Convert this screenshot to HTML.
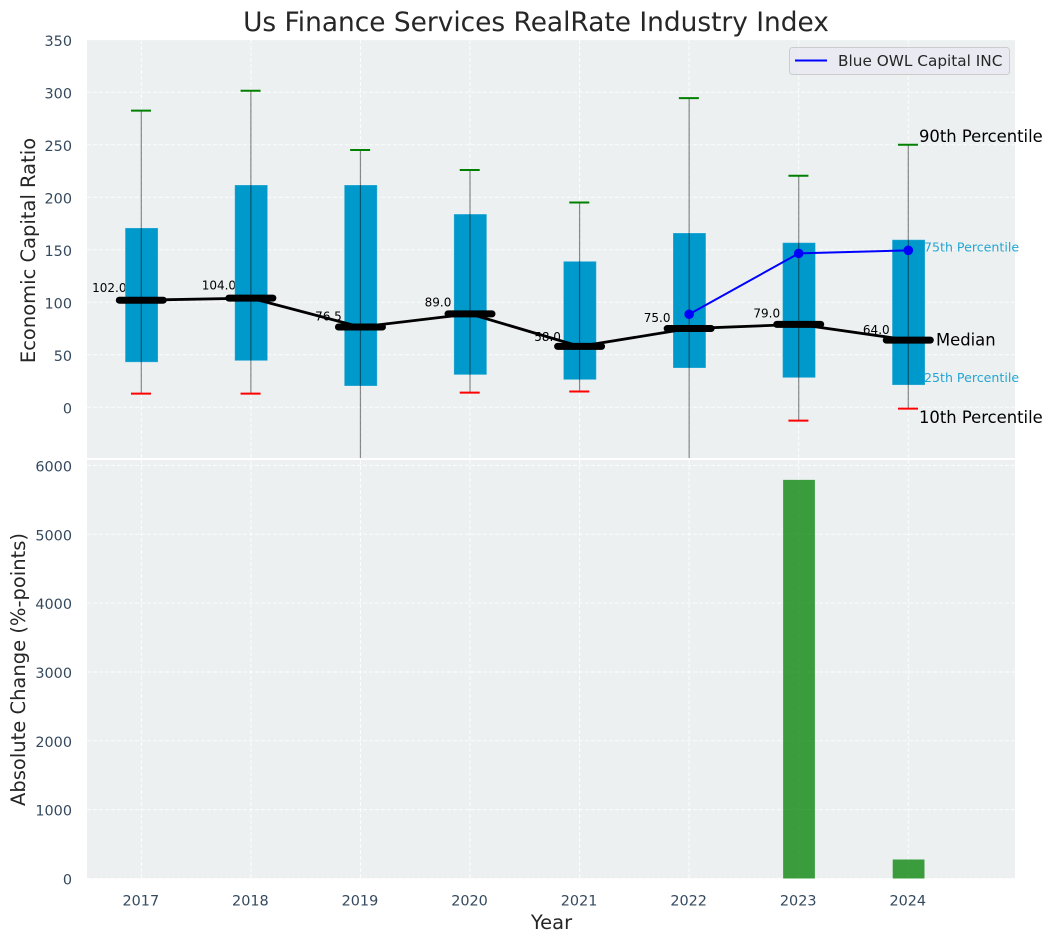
<!DOCTYPE html>
<html lang="en">
<head>
<meta charset="utf-8">
<title>Us Finance Services RealRate Industry Index</title>
<style>
html,body{margin:0;padding:0;background:#fff;width:1054px;height:942px;overflow:hidden}
svg{display:block}
text{font-family:"DejaVu Sans","Liberation Sans",sans-serif}
.tick{fill:#34495e;font-size:14.4px}
.axis-title{fill:#262626;font-size:19.5px}
</style>
</head>
<body>
<svg id="chart" width="1054" height="942" viewBox="0 0 1054 942" xmlns="http://www.w3.org/2000/svg">
  <defs>
    <clipPath id="top-clip"><rect x="87" y="40" width="928" height="418"></rect></clipPath>
  </defs>
  <text x="536" y="31" text-anchor="middle" font-size="26.4" fill="#262626">Us Finance Services RealRate Industry Index</text>
  <rect x="87" y="40" width="928" height="418" fill="#ecf0f1"></rect>
  <rect x="87" y="460" width="928" height="418.5" fill="#ecf0f1"></rect>
  <g id="grid-layer"></g>
  <g id="top-layer" clip-path="url(#top-clip)"></g>
  <g id="bottom-layer"></g>
  <g id="tick-layer"></g>
  <text class="axis-title" transform="translate(35,250.5) rotate(-90)" text-anchor="middle">Economic Capital Ratio</text>
  <text class="axis-title" transform="translate(25,669.5) rotate(-90)" text-anchor="middle">Absolute Change (%-points)</text>
  <text class="axis-title" x="551.5" y="929" text-anchor="middle">Year</text>
  <g>
    <rect x="789.5" y="47.5" width="220" height="27" rx="3" ry="3" fill="#eaeaf2" fill-opacity="0.8" stroke="#cccccc" stroke-width="1"></rect>
    <line x1="795" y1="60.5" x2="827" y2="60.5" stroke="#0000ff" stroke-width="2"></line>
    <text x="838" y="65.8" font-size="15.3" fill="#262626">Blue OWL Capital INC</text>
  </g>
  <text id="ann-p90" font-size="16.4" fill="#000">90th Percentile</text>
  <text id="ann-p75" font-size="12.6" fill="#0099cc" fill-opacity="0.85">75th Percentile</text>
  <text id="ann-med" font-size="16.4" fill="#000">Median</text>
  <text id="ann-p25" font-size="12.6" fill="#0099cc" fill-opacity="0.85">25th Percentile</text>
  <text id="ann-p10" font-size="16.4" fill="#000">10th Percentile</text>
</svg>
<script>
const years = [2017, 2018, 2019, 2020, 2021, 2022, 2023, 2024];
const p90 = [282.5, 301.5, 245, 226, 195, 294.5, 220.5, 250];
const p75 = [170.8, 211.7, 211.7, 184, 139, 166, 156.8, 159.6];
const medians = [102, 104, 76.5, 89, 58, 75, 79, 64];
const p25 = [43, 44.4, 20.3, 31, 26.3, 37.4, 28.2, 21.2];
const p10 = [13, 13, -60, 14, 15, -60, -12.7, -1.3];
const companyValues = [null, null, null, null, null, 88.6, 146.6, 149.5];
const absoluteChange = [0, 0, 0, 0, 0, 0, 5790, 276];
const topTicks = [0, 50, 100, 150, 200, 250, 300, 350];
const bottomTicks = [0, 1000, 2000, 3000, 4000, 5000, 6000];

const NS = 'http://www.w3.org/2000/svg';
const PLOT_LEFT = 87, PLOT_RIGHT = 1015;
const X_UNIT = 109.57;
function xScale(year) { return 141.3 + (year - 2017) * X_UNIT; }
function yTop(v) { return 407.3 - v * 1.05; }
function yBottom(v) { return 878.5 - v * 0.06885; }

function make(tag, parent, attrs) {
  const el = document.createElementNS(NS, tag);
  for (const k in attrs) el.setAttribute(k, attrs[k]);
  parent.appendChild(el);
  return el;
}

const gridLayer = document.getElementById('grid-layer');
const topLayer = document.getElementById('top-layer');
const bottomLayer = document.getElementById('bottom-layer');
const tickLayer = document.getElementById('tick-layer');
const gridStyle = { stroke: '#ffffff', 'stroke-width': 1, 'stroke-dasharray': '4,2', 'stroke-opacity': 0.85 };

topTicks.forEach(function (t) {
  const y = yTop(t);
  const line = make('line', gridLayer, Object.assign({ x1: PLOT_LEFT, x2: PLOT_RIGHT, y1: y, y2: y }, gridStyle));
  
  
  const label = make('text', tickLayer, { x: 72, y: y + 6, 'text-anchor': 'end', class: 'tick' });
  label.textContent = String(t);
  
  
});

bottomTicks.forEach(function (t) {
  const y = yBottom(t);
  const line = make('line', gridLayer, Object.assign({ x1: PLOT_LEFT, x2: PLOT_RIGHT, y1: y, y2: y }, gridStyle));
  
  
  const label = make('text', tickLayer, { x: 72, y: y + 6, 'text-anchor': 'end', class: 'tick' });
  label.textContent = String(t);
  
  
});

years.forEach(function (year) {
  const x = xScale(year);
  const topLine = make('line', gridLayer, Object.assign({ x1: x, x2: x, y1: 40, y2: 458 }, gridStyle));
  
  
  const bottomLine = make('line', gridLayer, Object.assign({ x1: x, x2: x, y1: 460, y2: 878.5 }, gridStyle));
  
  
  const label = make('text', tickLayer, { x: x - 0.5, y: 905.3, 'text-anchor': 'middle', class: 'tick' });
  label.textContent = String(year);
  
  
});

/* Median value labels sit behind the connecting line */
years.forEach(function (year, i) {
  const label = make('text', topLayer, {
    x: xScale(year) - 32, y: yTop(medians[i] * 1.062) - 1.7,
    'text-anchor': 'middle', 'font-size': 12, fill: '#000'
  });
  label.textContent = medians[i].toFixed(1);
  
  
});

/* Interquartile boxes */
years.forEach(function (year, i) {
  const box = make('rect', topLayer, {
    x: xScale(year) + 0.3 - X_UNIT * 0.15, y: yTop(p75[i]),
    width: X_UNIT * 0.3, height: yTop(p25[i]) - yTop(p75[i]),
    fill: '#0099cc', stroke: '#ffffff', 'stroke-opacity': 0.25, 'stroke-width': 1
  });
  
  
});

/* Whiskers and caps */
years.forEach(function (year, i) {
  const x = xScale(year);
  const whisker = make('line', topLayer, {
    x1: x, x2: x, y1: yTop(p90[i]), y2: yTop(p10[i]),
    stroke: '#000000', 'stroke-opacity': 0.45, 'stroke-width': 1.2
  });
  
  
  const capHigh = make('line', topLayer, {
    x1: x - 10.3, x2: x + 9.7, y1: yTop(p90[i]), y2: yTop(p90[i]),
    stroke: '#008000', 'stroke-width': 2
  });
  
  
  const capLow = make('line', topLayer, {
    x1: x - 10.3, x2: x + 9.7, y1: yTop(p10[i]), y2: yTop(p10[i]),
    stroke: '#ff0000', 'stroke-width': 2
  });
  
  
});

/* Median connecting line */
const medianPoints = years.map(function (year, i) { return xScale(year) + ',' + yTop(medians[i]); }).join(' ');
const medianLine = make('polyline', topLayer, {
  points: medianPoints, fill: 'none', stroke: '#000', 'stroke-width': 2.8, 'stroke-linejoin': 'round'
});



/* Thick median bars */
years.forEach(function (year, i) {
  const x = xScale(year);
  const bar = make('line', topLayer, {
    x1: x - 22, x2: x + 22, y1: yTop(medians[i]), y2: yTop(medians[i]),
    stroke: '#000', 'stroke-width': 7, 'stroke-linecap': 'round'
  });
  
  
});

/* Company series */
const companyPoints = [];
years.forEach(function (year, i) {
  if (companyValues[i] !== null) companyPoints.push(xScale(year) + ',' + yTop(companyValues[i]));
});
const companyLine = make('polyline', topLayer, {
  points: companyPoints.join(' '), fill: 'none', stroke: '#0000ff', 'stroke-width': 2
});


years.forEach(function (year, i) {
  if (companyValues[i] === null) return;
  const dot = make('circle', topLayer, { cx: xScale(year), cy: yTop(companyValues[i]), r: 4.8, fill: '#0000ff' });
  
  
});

/* Absolute change bars */
years.forEach(function (year, i) {
  const bar = make('rect', bottomLayer, {
    x: xScale(year) + 0.3 - X_UNIT * 0.145, y: yBottom(absoluteChange[i]),
    width: X_UNIT * 0.29, height: yBottom(0) - yBottom(absoluteChange[i]),
    fill: '#008000', 'fill-opacity': 0.75
  });
  
  
});

/* Percentile annotations anchored on the last year */
const last = years.length - 1;
const lastX = xScale(years[last]);
function place(id, x, y) {
  const el = document.getElementById(id);
  el.setAttribute('x', x);
  el.setAttribute('y', y);
}
place('ann-p90', lastX + 10.7, yTop(p90[last]) - 2.7);
place('ann-p75', lastX + 15.7, yTop(p75[last]) + 11.7);
place('ann-med', lastX + 27.7, yTop(medians[last]) + 5.2);
place('ann-p25', lastX + 15.7, yTop(p25[last]) - 3);
place('ann-p10', lastX + 10.7, yTop(p10[last]) + 14.5);
</script>
</body>
</html>
